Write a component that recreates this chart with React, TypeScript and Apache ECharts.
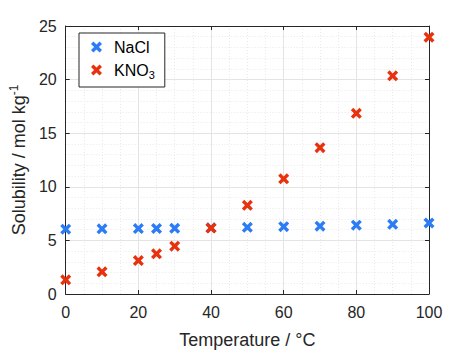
import React, { useEffect, useRef } from "react";
import * as echarts from "echarts";

const temperatures = [0, 10, 20, 25, 30, 40, 50, 60, 70, 80, 90, 100];
const naclValues = [6.05, 6.08, 6.1, 6.11, 6.13, 6.17, 6.22, 6.28, 6.33, 6.42, 6.5, 6.62];
const kno3Values = [1.32, 2.07, 3.12, 3.75, 4.46, 6.15, 8.27, 10.74, 13.65, 16.85, 20.35, 23.95];
const xTicks = [0, 20, 40, 60, 80, 100];
const yTicks = [0, 5, 10, 15, 20, 25];

const XMARK = "path://M0,2.2L2.2,0L5,2.8L7.8,0L10,2.2L7.2,5L10,7.8L7.8,10L5,7.2L2.2,10L0,7.8L2.8,5Z";
const FONT = "Liberation Sans, Arial, Helvetica, sans-serif";
const AX = "#262626";

export default function App() {
  const ref = useRef<HTMLDivElement>(null);
  useEffect(() => {
    if (!ref.current) return;
    const chart = echarts.init(ref.current, undefined, { renderer: "svg" });
    const common = {
      type: "value" as const,
      axisLine: { show: true, onZero: false, lineStyle: { color: AX, width: 1 } },
      axisTick: { show: true, inside: true, length: 4, lineStyle: { color: AX } },
      minorTick: { show: false },
    };
    chart.setOption({
      animation: false,
      backgroundColor: "#ffffff",
      textStyle: { fontFamily: FONT },
      grid: { left: 62, right: 45, top: 26, bottom: 63, containLabel: false },
      legend: {
        orient: "vertical",
        left: 79,
        top: 33,
        padding: [6, 10, 7, 12],
        itemGap: 6,
        itemWidth: 11,
        itemHeight: 11,
        backgroundColor: "#ffffff",
        borderColor: AX,
        borderWidth: 1,
        data: [
          { name: "NaCl", icon: XMARK },
          { name: "KNO3", icon: XMARK },
        ],
        formatter: (n: string) => (n === "KNO3" ? "{m|KNO}{s|3}" : "{m|NaCl}"),
        textStyle: {
          color: "#000",
          fontFamily: FONT,
          padding: [0, 0, 0, 7],
          rich: {
            m: { fontSize: 16, fontFamily: FONT, color: "#000", lineHeight: 20 },
            s: { fontSize: 11, fontFamily: FONT, color: "#000", verticalAlign: "bottom", lineHeight: 16, padding: [8, 0, 0, 0] },
          },
        },
      },
      xAxis: [
        {
          ...common,
          min: 0,
          max: 100,
          interval: 20,
          position: "bottom",
          name: "Temperature / °C",
          nameLocation: "middle",
          nameGap: 37,
          nameTextStyle: { fontSize: 18, color: AX, fontFamily: FONT },
          axisLabel: {
            fontSize: 16,
            color: AX,
            margin: 10,
            fontFamily: FONT,
            formatter: (v: number) => (xTicks.includes(v) ? String(v) : ""),
          },
          splitLine: { show: true, lineStyle: { color: "#e4e4e4", width: 1 } },
          minorTick: { show: false, splitNumber: 4 },
          minorSplitLine: { show: true, lineStyle: { color: "#e9e9e9", type: [1, 2], width: 1 } },
        },
        {
          ...common,
          min: 0,
          max: 100,
          interval: 20,
          position: "top",
          axisLabel: { show: false },
          splitLine: { show: false },
        },
      ],
      yAxis: [
        {
          ...common,
          min: 0,
          max: 25,
          interval: 5,
          position: "left",
          name: "Solubility / mol kg{sup|-1}",
          nameLocation: "middle",
          nameGap: 30,
          nameTextStyle: {
            fontSize: 18,
            color: AX,
            fontFamily: FONT,
            rich: {
              sup: { fontSize: 12, color: AX, fontFamily: FONT, verticalAlign: "top", padding: [0, 0, 10, 0] },
            },
          },
          axisLabel: {
            fontSize: 16,
            color: AX,
            margin: 9,
            fontFamily: FONT,
            formatter: (v: number) => (yTicks.includes(v) ? String(v) : ""),
          },
          splitLine: { show: true, lineStyle: { color: "#e4e4e4", width: 1 } },
          minorTick: { show: false, splitNumber: 5 },
          minorSplitLine: { show: true, lineStyle: { color: "#e9e9e9", type: [1, 2], width: 1 } },
        },
        {
          ...common,
          min: 0,
          max: 25,
          interval: 5,
          position: "right",
          axisLabel: { show: false },
          splitLine: { show: false },
        },
      ],
      series: [
        {
          name: "NaCl",
          type: "scatter",
          symbol: XMARK,
          symbolSize: 11,
          itemStyle: { color: "#2b7cf5", opacity: 1 },
          data: temperatures.map((t, i) => [t, naclValues[i]]),
          z: 3,
        },
        {
          name: "KNO3",
          type: "scatter",
          symbol: XMARK,
          symbolSize: 11,
          itemStyle: { color: "#e8310d", opacity: 1 },
          data: temperatures.map((t, i) => [t, kno3Values[i]]),
          z: 4,
        },
      ],
    });
    return () => chart.dispose();
  }, []);
  return <div ref={ref} style={{ width: 474, height: 357, position: "absolute", left: 0, top: 0 }} />;
}
